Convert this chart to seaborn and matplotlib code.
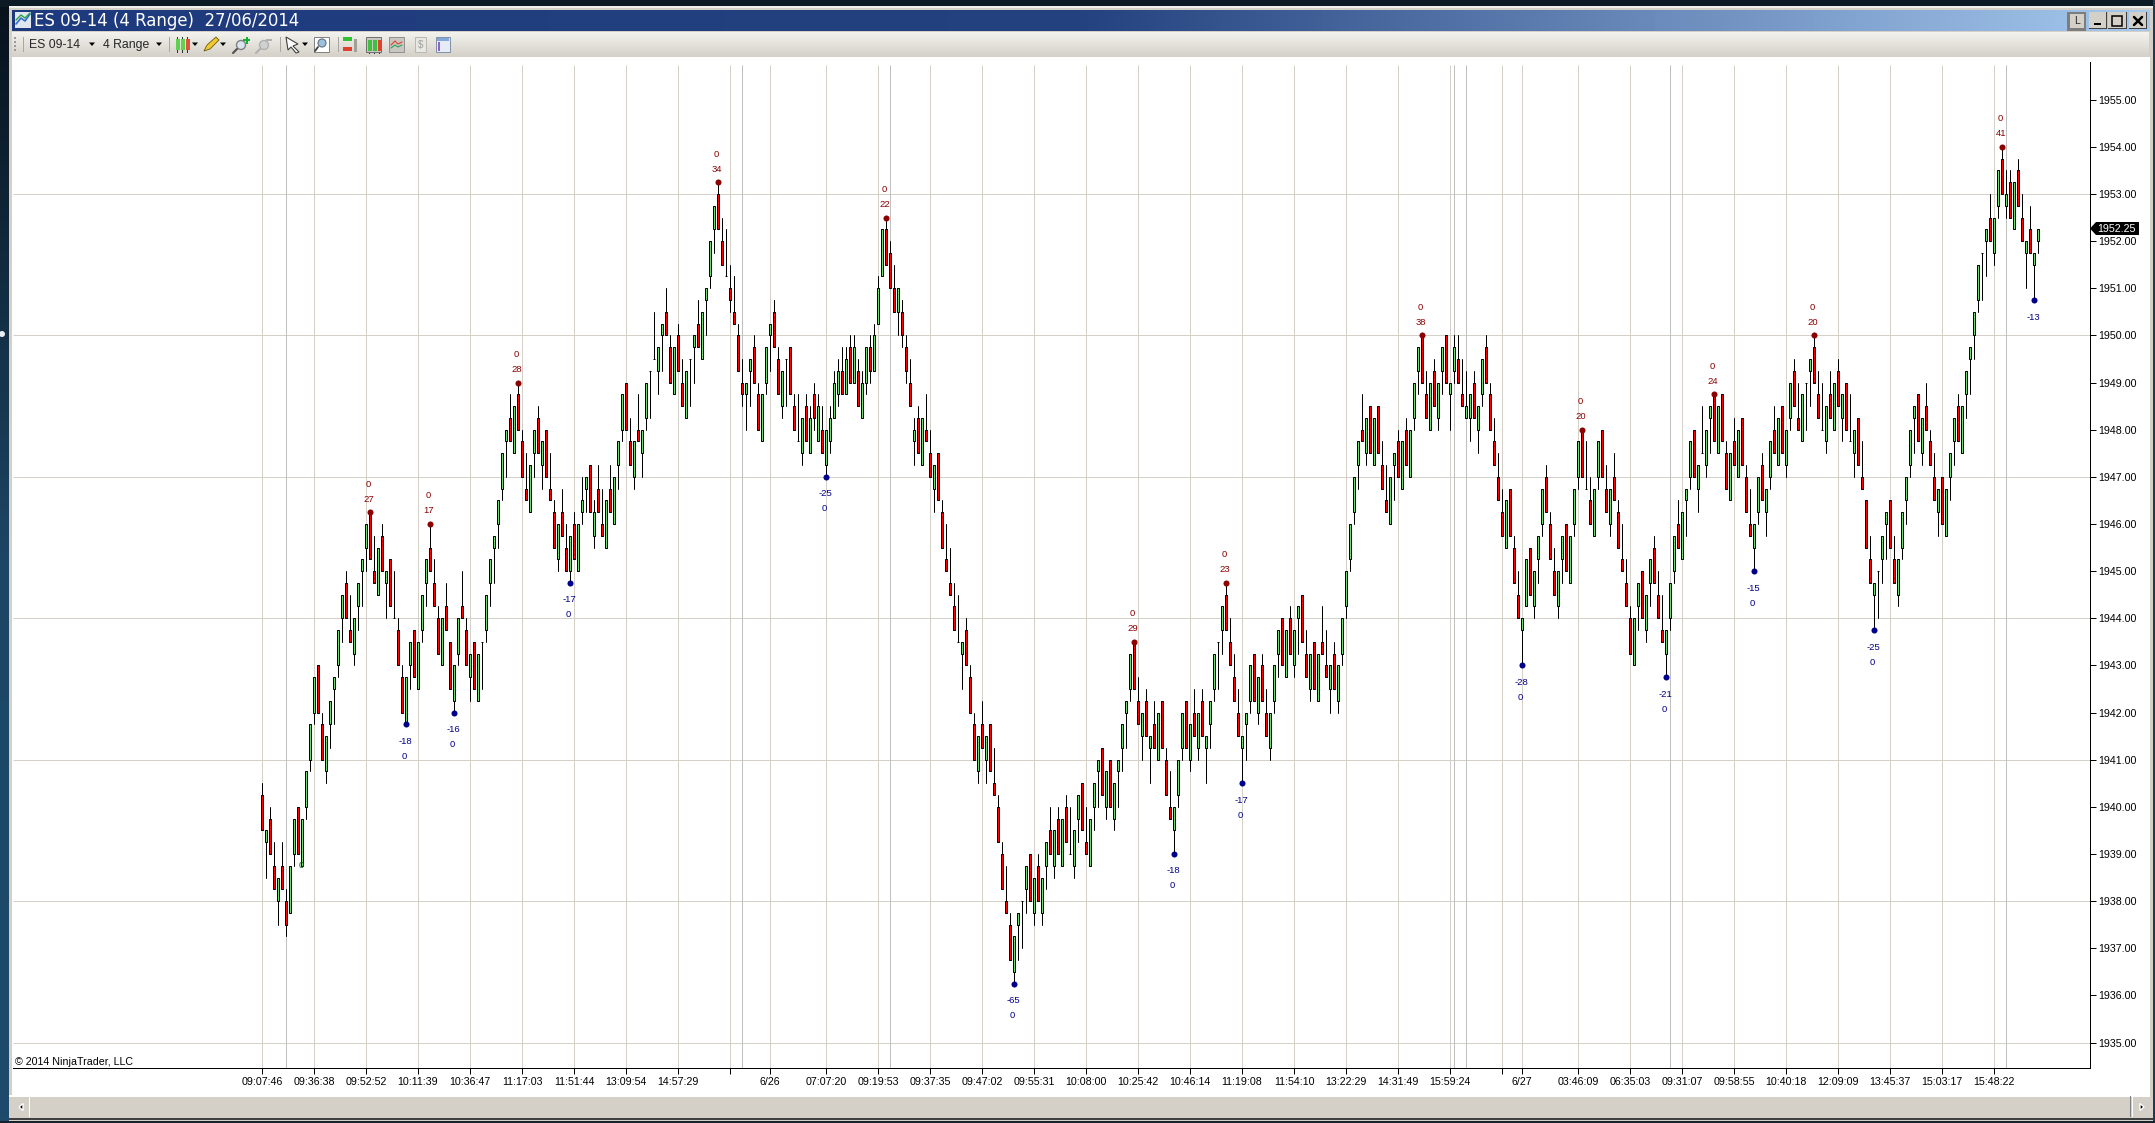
"""ES 09-14 4 Range Chart im NinjaTrader-Fenster."""

import matplotlib

matplotlib.use("Agg")

import matplotlib.pyplot as plt
import numpy as np
import pandas as pd
import seaborn as sns
from matplotlib.colors import LinearSegmentedColormap
from matplotlib.patches import Polygon, Rectangle

bar_open = [
    1940.25, 1939.25, 1939.75, 1938.75, 1938, 1938.75, 1938, 1937.75, 1939, 1940,
    1938.75, 1940, 1941, 1942, 1943, 1941.75, 1940.75, 1941.75, 1942.5, 1943,
    1944, 1944.75, 1943.75, 1943.25, 1944.25, 1945, 1945.5, 1946.25, 1945, 1944.5,
    1945.75, 1944.75, 1945.25, 1944, 1943.75, 1942.75, 1941.75, 1943, 1943.75, 1942.5,
    1943.75, 1944.75, 1945.5, 1944.75, 1944, 1943, 1944.25, 1943.5, 1942.25, 1943.25,
    1944.25, 1943.75, 1942.75, 1943.5, 1942.25, 1943.5, 1943.75, 1944.75, 1945.5, 1946,
    1946.75, 1947.75, 1948.25, 1947.5, 1948.75, 1947.75, 1946.75, 1946.25, 1947.5, 1948.25,
    1947.25, 1948, 1946.75, 1946.25, 1945.25, 1946.25, 1945.5, 1945, 1946, 1945,
    1946.25, 1946.75, 1947.25, 1945.75, 1946.75, 1946, 1945.5, 1946.75, 1946, 1947.25,
    1948, 1949, 1947.75, 1947, 1948, 1947.5, 1948.25, 1949.25, 1949.5, 1949.25,
    1950, 1950.5, 1949.75, 1948.75, 1950, 1949, 1948.25, 1949.5, 1949.75, 1950.25,
    1949.5, 1950.75, 1951.25, 1952.25, 1953, 1952, 1951.25, 1951, 1950.5, 1950,
    1949, 1948.75, 1949.25, 1949.75, 1948.75, 1947.75, 1949, 1950, 1950.5, 1949.5,
    1948.5, 1949.5, 1949.75, 1948.5, 1947.75, 1947.5, 1948.5, 1947.5, 1948.75, 1947.75,
    1948, 1947.25, 1947.75, 1948.25, 1948.75, 1949.25, 1948.75, 1949.75, 1949, 1949.25,
    1948.25, 1949, 1949.75, 1949.25, 1950.25, 1951.25, 1952.25, 1951.75, 1951, 1950.5,
    1950.5, 1949.75, 1949, 1947.75, 1948.25, 1947.25, 1948, 1947.5, 1946.75, 1947.5,
    1946.25, 1945.25, 1944.75, 1944.25, 1943.5, 1943.25, 1943.75, 1942.75, 1941.75, 1940.75,
    1941.75, 1941, 1941.75, 1940.5, 1940, 1939, 1938, 1937.5, 1936.5, 1937.5,
    1938, 1938.25, 1939, 1937.75, 1938.75, 1937.75, 1938.75, 1939.5, 1938.75, 1939.75,
    1938.75, 1940, 1939, 1938.75, 1939.75, 1940.5, 1939.25, 1938.75, 1940, 1940.75,
    1941.25, 1940, 1941, 1939.75, 1940.75, 1941.25, 1942, 1942.5, 1943.5, 1942.25,
    1941.5, 1942.25, 1941.25, 1941.75, 1941, 1942.25, 1941, 1940, 1939.5, 1940.25,
    1941.25, 1942.25, 1941, 1942, 1941.25, 1942.25, 1941.25, 1941.75, 1942.5, 1943.5,
    1943.75, 1944.5, 1943.5, 1942.75, 1942, 1941.25, 1941.75, 1942.25, 1943.25, 1942,
    1943, 1942, 1941.25, 1942.25, 1943.25, 1944, 1942.75, 1944, 1943, 1944,
    1944.5, 1943.25, 1942.5, 1943.5, 1942.25, 1943.5, 1943, 1942.5, 1943.25, 1942.25,
    1943.25, 1944.25, 1945.25, 1946.25, 1947.25, 1948, 1947.5, 1948.5, 1947.25, 1948.5,
    1947.25, 1946.5, 1946, 1947.25, 1947.75, 1946.75, 1948, 1947, 1948.25, 1949.25,
    1950, 1948.75, 1948, 1949.25, 1948.25, 1949.25, 1950, 1948.75, 1949.25, 1949.5,
    1948.75, 1948.25, 1948.25, 1949, 1948, 1948.75, 1949.75, 1948.75, 1947.75, 1947,
    1946.25, 1945.5, 1946.75, 1945.5, 1944.5, 1943.75, 1944.25, 1945.5, 1944.25, 1945.25,
    1946, 1947, 1946, 1945, 1944.25, 1945.25, 1946, 1944.75, 1946, 1947,
    1948, 1946.75, 1946.5, 1945.75, 1947, 1948, 1946.75, 1946, 1947, 1946.25,
    1945.25, 1944.75, 1944, 1943, 1944.25, 1945, 1943.75, 1944.75, 1945.5, 1944.5,
    1943.75, 1943.25, 1944, 1945, 1946, 1945.25, 1946.5, 1947, 1948, 1946.75,
    1947.5, 1947.25, 1948.25, 1948.75, 1947.5, 1948.75, 1947.5, 1946.5, 1947.75, 1947,
    1948.25, 1947, 1946, 1945.5, 1946.25, 1947.25, 1946.25, 1947, 1948, 1947.25,
    1948.5, 1947.25, 1948.25, 1949.25, 1948.25, 1947.75, 1949, 1949.25, 1949.75, 1948.75,
    1948, 1947.75, 1948.75, 1948, 1949.25, 1948.25, 1949, 1947.75, 1947.5, 1948.25,
    1947, 1946.5, 1945.25, 1944.5, 1945, 1945.25, 1946, 1946.5, 1945.25, 1944.5,
    1945.5, 1946.5, 1947.25, 1948.25, 1948.75, 1947.5, 1948.5, 1947.75, 1947, 1946.25,
    1947, 1945.75, 1947, 1947.75, 1948.5, 1947.5, 1948.75, 1949.5, 1950, 1950.75,
    1951.75, 1952, 1952.5, 1951.75, 1952.75, 1953.75, 1952.75, 1953.25, 1952.25, 1953.5,
    1952.5, 1951.75, 1952.25, 1951.5, 1952,
]
bar_high = [
    1940.5, 1939.5, 1940, 1939.25, 1938.5, 1939.25, 1938.25, 1938.75, 1939.75, 1940,
    1939.75, 1940.75, 1941.75, 1942.75, 1943, 1942, 1941.5, 1942.25, 1942.75, 1943.75,
    1944.5, 1945, 1944.5, 1944, 1944.75, 1945.25, 1946, 1946.25, 1945.75, 1945.5,
    1946, 1945, 1945.25, 1945, 1944, 1943, 1942.75, 1943.5, 1943.75, 1943.5,
    1944.5, 1945.25, 1946, 1945.25, 1944.25, 1944, 1944.75, 1943.5, 1943, 1944,
    1945, 1944, 1943.25, 1943.5, 1943.25, 1943.5, 1944.5, 1945.25, 1945.75, 1946.5,
    1947.5, 1948, 1948.75, 1948.5, 1949, 1948, 1947.5, 1947.25, 1948, 1948.5,
    1947.75, 1948, 1947.5, 1946.5, 1946, 1946.75, 1946, 1945.75, 1946.25, 1946,
    1947, 1947, 1947.25, 1946.5, 1947.25, 1946.75, 1946.5, 1947.25, 1947, 1947.75,
    1948.75, 1949, 1948.25, 1947.75, 1948.75, 1948, 1949, 1949.25, 1950.5, 1949.75,
    1950.25, 1951, 1950, 1949.75, 1950.25, 1949.5, 1949.25, 1949.5, 1950, 1950.75,
    1950.5, 1951, 1952, 1952.75, 1953.25, 1952.5, 1952.25, 1951.5, 1951.25, 1950.25,
    1949.5, 1949, 1949.5, 1950, 1949, 1948.75, 1949.75, 1950.25, 1950.75, 1949.75,
    1949.25, 1949.5, 1949.75, 1948.75, 1948.75, 1948.25, 1948.75, 1948.5, 1949, 1948.75,
    1948.5, 1948, 1948.5, 1949.25, 1949.5, 1949.75, 1949.75, 1950, 1950, 1949.5,
    1949.25, 1949.75, 1950, 1950.25, 1951.25, 1952.25, 1952.5, 1952, 1951.5, 1951,
    1950.75, 1950, 1949.5, 1948.25, 1948.5, 1948.25, 1948.75, 1948, 1947.25, 1947.5,
    1946.5, 1946, 1945.5, 1944.75, 1944.5, 1943.5, 1944, 1943, 1942, 1941.5,
    1942.25, 1941.5, 1941.75, 1941.25, 1940.25, 1939.25, 1938.75, 1937.75, 1937.25, 1937.75,
    1938, 1938.75, 1939, 1938.5, 1939, 1938.5, 1939.25, 1940, 1939.5, 1940,
    1939.75, 1940.25, 1940, 1939.5, 1940.25, 1940.5, 1940, 1939.75, 1940.5, 1941,
    1941.25, 1940.75, 1941, 1940.5, 1941, 1941.75, 1942.25, 1943.25, 1943.5, 1942.75,
    1942, 1942.5, 1941.5, 1942.25, 1942, 1942.25, 1941.25, 1940.75, 1940, 1941,
    1942, 1942.25, 1941.75, 1942.5, 1942, 1942.5, 1941.5, 1942.25, 1943.25, 1943.5,
    1944.25, 1944.75, 1944, 1943.25, 1942.5, 1941.5, 1942, 1943, 1943.25, 1942.75,
    1943.25, 1942.5, 1942, 1943, 1943.75, 1944, 1943.75, 1944.25, 1943.75, 1944.25,
    1944.5, 1943.75, 1943.25, 1943.5, 1943.25, 1944.25, 1943.75, 1943, 1943.5, 1943,
    1944, 1945, 1946, 1947, 1947.75, 1948.75, 1948.25, 1948.5, 1948.25, 1948.5,
    1947.75, 1947.25, 1947, 1947.5, 1948, 1947.75, 1948.25, 1948, 1949, 1949.75,
    1950, 1949.25, 1949, 1949.5, 1949, 1949.75, 1950, 1949, 1950, 1950,
    1949.5, 1949.25, 1948.75, 1949.25, 1948.5, 1949.5, 1950, 1949, 1948.25, 1947.5,
    1946.75, 1946.5, 1946.75, 1945.75, 1945, 1944, 1945.25, 1945.5, 1945, 1945.75,
    1946.75, 1947.25, 1946.25, 1945.5, 1945, 1945.75, 1946, 1945.75, 1946.75, 1947.75,
    1948, 1947.75, 1947, 1946.75, 1947.75, 1948, 1947.25, 1946.75, 1947.5, 1946.5,
    1946, 1945.25, 1944.25, 1944, 1944.75, 1945, 1944.5, 1945.25, 1945.75, 1945,
    1944.5, 1943.75, 1944.75, 1945.75, 1946.5, 1946.25, 1946.75, 1947.75, 1948, 1947.25,
    1948.5, 1948, 1948.5, 1948.75, 1948.5, 1948.75, 1947.75, 1947.5, 1948.25, 1948,
    1948.25, 1947.25, 1946.75, 1946, 1947, 1947.5, 1946.75, 1947.75, 1948.5, 1948.25,
    1948.5, 1948, 1949, 1949.5, 1949, 1948.75, 1949, 1949.5, 1950, 1949.25,
    1949, 1948.5, 1949.25, 1949, 1949.5, 1948.75, 1949, 1948.75, 1948, 1948.25,
    1947.75, 1946.5, 1945.75, 1944.75, 1945, 1945.75, 1946.25, 1946.5, 1945.75, 1945.25,
    1946.25, 1947, 1948, 1948.5, 1948.75, 1948.25, 1949, 1948, 1947.5, 1946.75,
    1947, 1946.75, 1947.5, 1948.25, 1948.75, 1948.5, 1949.25, 1949.75, 1950.5, 1951.5,
    1951.75, 1952.25, 1953, 1952.5, 1953.5, 1954, 1953.5, 1953.5, 1953.25, 1953.75,
    1953, 1952, 1952.75, 1951.75, 1952.25,
]
bar_low = [
    1939.5, 1938.5, 1939, 1938.25, 1937.5, 1938.25, 1937.25, 1937.75, 1938.75, 1939,
    1938.75, 1939.75, 1940.75, 1941.75, 1942, 1941, 1940.5, 1941.25, 1941.75, 1942.75,
    1943.5, 1944, 1943.5, 1943, 1943.75, 1944.25, 1945, 1945.25, 1944.75, 1944.5,
    1945, 1944, 1944.25, 1944, 1943, 1942, 1941.75, 1942.5, 1942.75, 1942.5,
    1943.5, 1944.25, 1945, 1944.25, 1943.25, 1943, 1943.75, 1942.5, 1942, 1943,
    1944, 1943, 1942.25, 1942.5, 1942.25, 1942.5, 1943.5, 1944.25, 1944.75, 1945.5,
    1946.5, 1947, 1947.75, 1947.5, 1948, 1947, 1946.5, 1946.25, 1947, 1947.5,
    1946.75, 1947, 1946.5, 1945.5, 1945, 1945.75, 1945, 1944.75, 1945.25, 1945,
    1946, 1946.25, 1946.25, 1945.5, 1946.25, 1945.75, 1945.5, 1946.25, 1946, 1946.75,
    1947.75, 1948, 1947.25, 1946.75, 1947.75, 1947, 1948, 1948.25, 1949.5, 1948.75,
    1949.25, 1950, 1949, 1948.75, 1949.25, 1948.5, 1948.25, 1948.5, 1949, 1949.75,
    1949.5, 1950, 1951, 1951.75, 1952.25, 1951.5, 1951.25, 1950.5, 1950.25, 1949.25,
    1948.5, 1948, 1948.5, 1949, 1948, 1947.75, 1948.75, 1949.25, 1949.75, 1948.75,
    1948.25, 1948.5, 1948.75, 1948, 1947.75, 1947.25, 1947.75, 1947.5, 1948, 1947.75,
    1947.5, 1947, 1947.5, 1948.25, 1948.5, 1948.75, 1948.75, 1949, 1949, 1948.5,
    1948.25, 1948.75, 1949, 1949.25, 1950.25, 1951.25, 1951.5, 1951, 1950.5, 1950,
    1949.75, 1949, 1948.5, 1947.25, 1947.5, 1947.25, 1947.75, 1947, 1946.25, 1946.5,
    1945.5, 1945, 1944.5, 1943.75, 1943.5, 1942.5, 1943, 1942, 1941, 1940.5,
    1941.25, 1940.5, 1940.75, 1940.25, 1939.25, 1938.25, 1937.75, 1936.75, 1936.25, 1936.75,
    1937, 1937.75, 1938, 1937.5, 1938, 1937.5, 1938.25, 1939, 1938.5, 1939,
    1938.75, 1939.25, 1939, 1938.5, 1939.25, 1939.5, 1939, 1938.75, 1939.5, 1940,
    1940.25, 1939.75, 1940, 1939.5, 1940, 1940.75, 1941.25, 1942.25, 1942.5, 1941.75,
    1941, 1941.5, 1940.5, 1941.25, 1941, 1941.25, 1940.25, 1939.75, 1939, 1940,
    1941, 1941.25, 1940.75, 1941.5, 1941, 1941.5, 1940.5, 1941.25, 1942.25, 1942.5,
    1943.25, 1943.75, 1943, 1942.25, 1941.5, 1940.5, 1941, 1942, 1942.25, 1941.75,
    1942.25, 1941.5, 1941, 1942, 1942.75, 1943, 1942.75, 1943.25, 1942.75, 1943.25,
    1943.5, 1942.75, 1942.25, 1942.5, 1942.25, 1943.25, 1942.75, 1942, 1942.5, 1942,
    1943, 1944, 1945, 1946, 1946.75, 1947.75, 1947.25, 1947.5, 1947.25, 1947.5,
    1946.75, 1946.25, 1946, 1946.5, 1947, 1946.75, 1947.25, 1947, 1948, 1948.75,
    1949, 1948.25, 1948, 1948.5, 1948, 1948.75, 1949, 1948, 1949, 1949,
    1948.5, 1948.25, 1947.75, 1948.25, 1947.5, 1948.5, 1949, 1948, 1947.25, 1946.5,
    1945.75, 1945.5, 1945.75, 1944.75, 1944, 1943, 1944.25, 1944.5, 1944, 1944.75,
    1945.75, 1946.25, 1945.25, 1944.5, 1944, 1944.75, 1945, 1944.75, 1945.75, 1946.75,
    1947, 1946.75, 1946, 1945.75, 1946.75, 1947, 1946.25, 1945.75, 1946.5, 1945.5,
    1945, 1944.25, 1943.25, 1943, 1943.75, 1944, 1943.5, 1944.25, 1944.75, 1944,
    1943.5, 1942.75, 1943.75, 1944.75, 1945.5, 1945.25, 1945.75, 1946.75, 1947, 1946.25,
    1947.5, 1947, 1947.5, 1947.75, 1947.5, 1947.75, 1946.75, 1946.5, 1947.25, 1947,
    1947.25, 1946.25, 1945.75, 1945, 1946, 1946.5, 1945.75, 1946.75, 1947.5, 1947.25,
    1947.5, 1947, 1948, 1948.5, 1948, 1947.75, 1948, 1948.5, 1949, 1948.25,
    1948, 1947.5, 1948.25, 1948, 1948.5, 1947.75, 1948, 1947.75, 1947, 1947.25,
    1946.75, 1945.5, 1944.75, 1943.75, 1944, 1944.75, 1945.25, 1945.5, 1944.75, 1944.25,
    1945.25, 1946, 1947, 1947.5, 1947.75, 1947.25, 1948, 1947.25, 1946.5, 1945.75,
    1946, 1945.75, 1946.5, 1947.25, 1947.75, 1947.5, 1948.25, 1948.75, 1949.5, 1950.5,
    1950.75, 1951.25, 1952, 1951.5, 1952.5, 1953, 1952.5, 1952.5, 1952.25, 1952.75,
    1952, 1951, 1951.75, 1950.75, 1951.75,
]
bar_close = [
    1939.5, 1939.5, 1939, 1938.25, 1938.5, 1938.25, 1937.5, 1938.75, 1939.75, 1939,
    1939.75, 1940.75, 1941.75, 1942.75, 1942, 1941, 1941.5, 1942.25, 1942.75, 1943.75,
    1944.5, 1944, 1943.5, 1944, 1944.75, 1945.25, 1946, 1945.25, 1944.75, 1945.5,
    1945, 1945, 1944.25, 1944, 1943, 1942, 1942.75, 1943.5, 1942.75, 1943.5,
    1944.5, 1945.25, 1945, 1944.25, 1943.25, 1944, 1943.75, 1942.5, 1943, 1944,
    1944, 1943, 1943.25, 1942.5, 1943.25, 1943.5, 1944.5, 1945.25, 1945.75, 1946.5,
    1947.5, 1948, 1947.75, 1948.5, 1948, 1947, 1946.5, 1947.25, 1948, 1947.5,
    1947.75, 1947, 1946.5, 1945.5, 1946, 1945.75, 1945, 1945.75, 1945.25, 1946,
    1946.5, 1947, 1946.25, 1946.25, 1946.25, 1945.75, 1946.5, 1946.25, 1947, 1947.75,
    1948.75, 1948, 1947.25, 1947.75, 1947.75, 1948, 1949, 1949.25, 1949.5, 1949.75,
    1950.25, 1950, 1949, 1949.75, 1949.25, 1948.5, 1949.25, 1949.5, 1950, 1949.75,
    1950.5, 1951, 1952, 1952.75, 1952.25, 1951.5, 1951.25, 1950.75, 1950.25, 1949.25,
    1948.75, 1949, 1949.5, 1949, 1948, 1948.75, 1949.75, 1950.25, 1949.75, 1948.75,
    1949.25, 1949.5, 1948.75, 1948, 1947.75, 1948.25, 1947.75, 1948.25, 1948.25, 1948.5,
    1947.5, 1948, 1948.25, 1949, 1949.25, 1948.75, 1949.5, 1949, 1949.75, 1948.5,
    1949, 1949.75, 1949.25, 1950, 1951, 1952.25, 1951.5, 1951, 1950.5, 1951,
    1950, 1949.25, 1948.5, 1948, 1947.5, 1948.25, 1947.75, 1947, 1947.25, 1946.5,
    1945.5, 1945, 1944.5, 1943.75, 1943.5, 1943.5, 1943, 1942, 1941, 1941.5,
    1941.25, 1941.5, 1940.75, 1940.25, 1939.25, 1938.25, 1937.75, 1936.75, 1937.25, 1937.75,
    1938, 1938.75, 1938, 1938.5, 1938, 1938.5, 1939.25, 1939, 1939.5, 1939,
    1939.75, 1939.25, 1939, 1939.5, 1940.25, 1939.5, 1939, 1939.75, 1940.5, 1941,
    1940.25, 1940.75, 1940, 1940.5, 1941, 1941.75, 1942.25, 1943.25, 1942.5, 1941.75,
    1942, 1941.5, 1941.5, 1941.25, 1942, 1941.25, 1940.25, 1939.75, 1940, 1941,
    1942, 1941.25, 1941.75, 1941.5, 1942, 1941.5, 1941.5, 1942.25, 1943.25, 1943.5,
    1944.25, 1943.75, 1943, 1942.25, 1941.5, 1941.5, 1942, 1943, 1942.25, 1942.75,
    1942.25, 1941.5, 1942, 1943, 1943.75, 1943, 1943.75, 1943.25, 1943.75, 1944.25,
    1943.5, 1942.75, 1943.25, 1942.5, 1943.25, 1943.25, 1942.75, 1943, 1942.5, 1943,
    1944, 1945, 1946, 1947, 1947.75, 1947.75, 1948.25, 1947.5, 1948.25, 1947.5,
    1946.75, 1946.25, 1947, 1947.5, 1947, 1947.75, 1947.25, 1948, 1949, 1949.75,
    1949, 1948.25, 1949, 1948.5, 1949, 1949.75, 1949, 1949, 1949.75, 1949,
    1948.5, 1948.5, 1948.75, 1948.25, 1948.5, 1949.5, 1949, 1948, 1947.25, 1946.5,
    1945.75, 1946.5, 1945.75, 1944.75, 1944, 1944, 1945.25, 1944.5, 1945, 1945.75,
    1946.75, 1946.25, 1945.25, 1944.5, 1945, 1945.75, 1945, 1945.75, 1946.75, 1947.75,
    1947, 1946.75, 1946, 1946.75, 1947.75, 1947, 1946.25, 1946.75, 1946.5, 1945.5,
    1945, 1944.25, 1943.25, 1944, 1944.75, 1944, 1944.5, 1945.25, 1944.75, 1944,
    1943.5, 1943.75, 1944.75, 1945.75, 1945.5, 1946.25, 1946.75, 1947.75, 1947, 1947.25,
    1947.5, 1948, 1948.5, 1947.75, 1948.5, 1947.75, 1946.75, 1947.5, 1947.25, 1948,
    1947.25, 1946.25, 1945.75, 1946, 1947, 1946.5, 1946.75, 1947.75, 1947.5, 1948.25,
    1947.5, 1948, 1949, 1948.5, 1948, 1948.75, 1949, 1949.5, 1949, 1948.25,
    1948, 1948.5, 1948.25, 1949, 1948.5, 1948.75, 1948, 1947.75, 1948, 1947.25,
    1946.75, 1945.5, 1944.75, 1944.75, 1945, 1945.75, 1946.25, 1945.5, 1944.75, 1945.25,
    1946.25, 1947, 1948, 1948.5, 1947.75, 1948.25, 1948, 1947.25, 1946.5, 1946.75,
    1946, 1946.75, 1947.5, 1948.25, 1947.75, 1948.5, 1949.25, 1949.75, 1950.5, 1951.5,
    1951.75, 1952.25, 1952, 1952.5, 1953.5, 1953, 1953, 1952.5, 1953.25, 1952.75,
    1952, 1952, 1951.75, 1951.75, 1952.25,
]

# Swing-Marken: Bar-Index, Preis, Wert
swing_high_bar = [27, 42, 64, 114, 156, 218, 241, 290, 330, 363, 388, 435]
swing_high_price = [1946.25, 1946, 1949, 1953.25, 1952.5, 1943.5, 1944.75, 1950, 1948, 1948.75, 1950, 1954]
swing_high_value = [27, 17, 28, 34, 22, 29, 23, 38, 20, 24, 20, 41]
swing_low_bar = [36, 48, 77, 141, 188, 228, 245, 315, 351, 373, 403, 443]
swing_low_price = [1941.75, 1942, 1944.75, 1947, 1936.25, 1939, 1940.5, 1943, 1942.75, 1945, 1943.75, 1950.75]
swing_low_value = [-18, -16, -17, -25, -65, -18, -17, -28, -21, -15, -25, -13]

# Zeitachse
tick_bars = [0, 13, 26, 39, 52, 65, 78, 91, 104, 117, 127, 141, 154, 167, 180, 193, 206, 219,
             232, 245, 258, 271, 284, 297, 310, 315, 329, 342, 355, 368, 381, 394, 407, 420, 433]
tick_labels = ["09:07:46", "09:36:38", "09:52:52", "10:11:39", "10:36:47", "11:17:03", "11:51:44",
               "13:09:54", "14:57:29", "", "6/26", "07:07:20", "09:19:53", "09:37:35", "09:47:02",
               "09:55:31", "10:08:00", "10:25:42", "10:46:14", "11:19:08", "11:54:10", "13:22:29",
               "14:31:49", "15:59:24", "", "6/27", "03:46:09", "06:35:03", "09:31:07", "09:58:55",
               "10:40:18", "12:09:09", "13:45:37", "15:03:17", "15:48:22"]
session_bars = [6, 120, 157, 298, 301, 352, 436]
price_ticks = [1935 + k for k in range(21)]
grid_prices = [1935, 1938, 1941, 1944, 1947, 1950, 1953]
last_price = 1952.25

WIDTH, HEIGHT = 2155, 1123
GREY = "#d4d0c8"
GRID = "#d4d0c8"
PX = 0.72  # 1 Pixel in Punkt bei dpi=100


def rect(ax, x0, y0, x1, y1, color, z=1):
    ax.add_patch(Rectangle((x0, y0), x1 - x0, y1 - y0, facecolor=color, edgecolor="none", zorder=z))


def arrow(ax, x, y, color="black", size=3):
    ax.add_patch(Polygon([(x - size, y - 1.5), (x + size, y - 1.5), (x, y + 2)], closed=True, facecolor=color,
                         edgecolor="none", zorder=5))


def gradient(ax, x0, y0, x1, y1, colors, z, vertical=False):
    cmap = LinearSegmentedColormap.from_list("verlauf", colors)
    ramp = np.linspace(0, 1, 256)
    ramp = ramp.reshape(-1, 1) if vertical else ramp.reshape(1, -1)
    ax.imshow(ramp, cmap=cmap, extent=(x0, x1, y1, y0), aspect="auto", zorder=z, interpolation="bilinear")


def candle_icon(ax, x, y, colors):
    for k, color in enumerate(colors):
        rect(ax, x + k * 5, y, x + k * 5 + 3.5, y + 11, color, z=5)
        rect(ax, x + k * 5 + 1.2, y - 2, x + k * 5 + 2.2, y + 14, "#303030", z=4)


def draw_window(ax):
    """Fensterrahmen, Titelleiste, Toolbar und Scrollbar in Pixelkoordinaten."""
    gradient(ax, 0, 0, 10, HEIGHT, ["#07121c", "#1d4664", "#1f4a6c"], 2, vertical=True)
    rect(ax, 0, 0, WIDTH, 7, "#0c1a26", z=3)
    rect(ax, 2153, 0, WIDTH, HEIGHT, "#1c3a50", z=3)
    ax.add_patch(plt.Circle((2, 334), 3, facecolor="#e8eef4", edgecolor="none", zorder=3))
    rect(ax, 9, 6, 2153, 1121, GREY, z=3)
    rect(ax, 9, 6, 2153, 8, "#f0efe9", z=3)
    rect(ax, 12, 57, 2150, 1097, "white", z=3)
    rect(ax, 9, 1118, 2153, 1120, "#404040", z=4)
    rect(ax, 0, 1121, WIDTH, HEIGHT, "#16222c", z=4)

    gradient(ax, 12, 10, 2150, 31, ["#1e3a7e", "#24427f", "#a5c8ee"], 4)
    gradient(ax, 12, 32, 2149, 57, ["#f4f3ee", "#d4d0c8"], 4, vertical=True)
    ax.set_xlim(0, WIDTH)
    ax.set_ylim(HEIGHT, 0)
    ax.axis("off")

    # Titel
    rect(ax, 15, 12, 31, 28, "#dfe8f0", z=5)
    ax.plot([16, 21, 25, 30], [24, 18, 21, 14], color="#3070d0", lw=1.2, zorder=6)
    ax.plot([16, 21, 25, 30], [20, 15, 18, 13], color="#30a040", lw=1.0, zorder=6)
    ax.text(34, 21, "ES 09-14 (4 Range)  27/06/2014", color="white", fontsize=11.9, va="center", ha="left",
            family="DejaVu Sans", zorder=6)

    # Fensterknoepfe
    rect(ax, 2067, 12, 2086, 31, "#7d7d7d", z=5)
    rect(ax, 2070, 14, 2084, 28, GREY, z=6)
    ax.text(2077, 21.5, "L", fontsize=7.5, ha="center", va="center", zorder=7)
    for x0, x1 in [(2089, 2107), (2108, 2127), (2129, 2147)]:
        rect(ax, x0, 12, x1, 29, "#404040", z=5)
        rect(ax, x0, 12, x1 - 1, 28, GREY, z=6)
    rect(ax, 2094, 23, 2101, 25, "black", z=7)
    ax.add_patch(Rectangle((2112, 16), 10, 10, facecolor="none", edgecolor="black", lw=1.1, zorder=7))
    ax.plot([2134, 2142], [17, 25], color="black", lw=1.8, zorder=7)
    ax.plot([2134, 2142], [25, 17], color="black", lw=1.8, zorder=7)

    # Toolbar
    for y in (37, 41, 45, 49):
        rect(ax, 14, y, 16, y + 2, "#9a9a9a", z=5)
    for x in (23, 169, 280, 338):
        rect(ax, x, 37, x + 1, 52, "#a8a8a0", z=5)
    ax.text(29, 45, "ES 09-14", fontsize=8.8, va="center", zorder=6)
    arrow(ax, 92, 44)
    ax.text(103, 45, "4 Range", fontsize=8.8, va="center", zorder=6)
    arrow(ax, 159, 44)
    candle_icon(ax, 176, 39, ["#5fd04f", "#5fd04f", "#e05040"])
    arrow(ax, 195, 44)
    ax.add_patch(Polygon([(204, 51), (207, 45), (216, 37), (219, 40), (210, 49)], closed=True, facecolor="#f2c830",
                         edgecolor="#6a5a10", lw=0.6, zorder=5))
    arrow(ax, 223, 44)
    ax.add_patch(plt.Circle((241, 45), 4.5, facecolor="#d8e4f0", edgecolor="#808080", lw=1, zorder=5))
    ax.plot([237, 233], [49, 53], color="#505050", lw=1.5, zorder=5)
    rect(ax, 243, 39, 250, 41, "#10b030", z=6)
    rect(ax, 245.5, 36.5, 247.5, 43.5, "#10b030", z=6)
    ax.add_patch(plt.Circle((264, 45), 4.5, facecolor="#d0d0d0", edgecolor="#b0b0b0", lw=1, zorder=5))
    ax.plot([260, 256], [49, 53], color="#b0b0b0", lw=1.5, zorder=5)
    rect(ax, 266, 39, 272, 41, "#b0b0b0", z=6)
    ax.add_patch(Polygon([(286, 37), (298, 44), (293, 46), (299, 52), (296, 53), (291, 47), (288, 50)], closed=True,
                         facecolor="white", edgecolor="#404040", lw=0.8, zorder=5))
    arrow(ax, 305, 44)
    ax.add_patch(Rectangle((314, 37), 15, 15, facecolor="white", edgecolor="#808080", lw=0.7, zorder=5))
    ax.add_patch(plt.Circle((322, 43), 4, facecolor="#9cc0e0", edgecolor="#607080", lw=0.8, zorder=6))
    ax.plot([318, 315], [47, 51], color="#404040", lw=1.3, zorder=6)
    rect(ax, 343, 37, 352, 41, "#30c030", z=5)
    rect(ax, 343, 47, 352, 51, "#e04030", z=5)
    rect(ax, 354, 39, 357, 52, "#a0a098", z=5)
    ax.add_patch(Rectangle((366, 37), 15, 15, facecolor="#c8c8c0", edgecolor="#707070", lw=0.7, zorder=5))
    candle_icon(ax, 368, 40, ["#40c040", "#40c040", "#e04030"])
    ax.add_patch(Rectangle((389, 37), 15, 15, facecolor="#c8c8c0", edgecolor="#909090", lw=0.7, zorder=5))
    ax.plot([391, 395, 398, 402], [45, 41, 44, 42], color="#e04030", lw=0.8, zorder=6)
    ax.plot([391, 395, 398, 402], [48, 45, 47, 45], color="#30a060", lw=0.8, zorder=6)
    ax.add_patch(Rectangle((415, 37), 11, 15, facecolor="#e8e8e2", edgecolor="#b8b8b0", lw=0.7, zorder=5))
    ax.text(420.5, 45, "$", fontsize=7, color="#a0a0a0", ha="center", va="center", zorder=6)
    ax.add_patch(Rectangle((436, 37), 14, 15, facecolor="#e6ecf6", edgecolor="#8090a8", lw=0.7, zorder=5))
    rect(ax, 437, 38, 449, 41, "#80a8d8", z=6)
    rect(ax, 438, 42, 440, 51, "#9060d0", z=6)

    # Scrollbar
    rect(ax, 9, 1095, 2150, 1097, "white", z=4)
    rect(ax, 12, 1097, 2150, 1117, GREY, z=4)
    rect(ax, 29, 1096, 30, 1117, "white", z=5)
    rect(ax, 2130, 1096, 2131, 1117, "#808080", z=5)
    rect(ax, 2132, 1096, 2133, 1117, "white", z=5)
    ax.add_patch(Polygon([(19, 1107), (23, 1103.5), (23, 1110.5)], closed=True, facecolor="black", zorder=6))
    ax.add_patch(Polygon([(2144, 1107), (2140, 1103.5), (2140, 1110.5)], closed=True, facecolor="black", zorder=6))

    # Kurs-Marke rechts
    ax.add_patch(Polygon([(2090, 228.5), (2096, 222), (2139, 222), (2139, 235), (2096, 235)], closed=True,
                         facecolor="black", edgecolor="none", zorder=8))
    ax.text(2097, 228.7, f"{last_price:.2f}", color="white", fontsize=7.7, va="center", ha="left", zorder=9)


sns.set_theme(style="white")
plt.rcParams["font.family"] = ["Liberation Sans", "DejaVu Sans"]

fig = plt.figure(figsize=(WIDTH / 100, HEIGHT / 100), dpi=100, facecolor="white")
ax_window = fig.add_axes((0, 0, 1, 1), zorder=0)
draw_window(ax_window)

left, right, top, bottom = 13, 2089.5, 62, 1068
ax = fig.add_axes((left / WIDTH, 1 - bottom / HEIGHT, (right - left) / WIDTH, (bottom - top) / HEIGHT), zorder=1)
ax.patch.set_alpha(0)

bars = pd.DataFrame({"bar": np.arange(len(bar_open)), "open": bar_open, "high": bar_high, "low": bar_low,
                     "close": bar_close})
wicks = bars.melt(id_vars="bar", value_vars=["high", "low"], value_name="price")

# Raster
ax.hlines(grid_prices, -62.25, 456.875, color=GRID, lw=PX, zorder=1)
ax.vlines(tick_bars, 1934.46, 1955.74, color=GRID, lw=PX, zorder=1)
ax.vlines(session_bars, 1934.46, 1955.74, color="#c0c0c0", lw=PX, zorder=1)

# Kerzen
sns.lineplot(data=wicks, x="bar", y="price", units="bar", estimator=None, color="black", lw=PX, sort=True,
             legend=False, ax=ax, zorder=3)
body_low = bars[["open", "close"]].min(axis=1)
body_height = (bars["open"] - bars["close"]).abs()
body_color = np.where(bars["close"] >= bars["open"], "#6ee06e", "#ff0000")
ax.bar(bars["bar"], body_height, bottom=body_low, width=0.5, color=body_color, edgecolor="black", linewidth=PX,
       zorder=4)

# Swing-Marken
highs = pd.DataFrame({"bar": swing_high_bar, "price": swing_high_price})
lows = pd.DataFrame({"bar": swing_low_bar, "price": swing_low_price})
sns.scatterplot(data=highs, x="bar", y="price", color="#8b0000", s=19, linewidth=0, legend=False, ax=ax, zorder=5)
sns.scatterplot(data=lows, x="bar", y="price", color="#00008b", s=19, linewidth=0, legend=False, ax=ax, zorder=5)
for b, p, v in zip(swing_high_bar, swing_high_price, swing_high_value):
    ax.annotate(str(v), (b, p), xytext=(-1, 13), textcoords="offset pixels", ha="center", va="center",
                fontsize=6.8, color="#8b0000", zorder=6)
    ax.annotate("0", (b, p), xytext=(-2, 28), textcoords="offset pixels", ha="center", va="center",
                fontsize=6.8, color="#8b0000", zorder=6)
for b, p, v in zip(swing_low_bar, swing_low_price, swing_low_value):
    ax.annotate(str(v), (b, p), xytext=(-1, -17), textcoords="offset pixels", ha="center", va="center",
                fontsize=6.8, color="#00008b", zorder=6)
    if b != swing_low_bar[-1]:
        ax.annotate("0", (b, p), xytext=(-2, -32), textcoords="offset pixels", ha="center", va="center",
                    fontsize=6.8, color="#00008b", zorder=6)
ax.annotate("0", (10, 1938.75), xytext=(-1, 0), textcoords="offset pixels", ha="center", va="center", fontsize=6.8,
            color="#006400", zorder=6)

ax.set_xlim(-62.25, 456.875)
ax.set_ylim(1934.46, 1955.8)
ax.set_xlabel("")
ax.set_ylabel("")
ax.set_xticks(tick_bars, labels=tick_labels)
ax.yaxis.tick_right()
ax.set_yticks(price_ticks, labels=[f"{p:.2f}" for p in price_ticks])
ax.tick_params(axis="x", length=4.6, width=PX, pad=2, labelsize=7.7, colors="black", bottom=True)
ax.tick_params(axis="y", length=4, width=PX, pad=2, labelsize=7.7, colors="black", right=True)
for name in ("left", "top"):
    ax.spines[name].set_visible(False)
for name in ("right", "bottom"):
    ax.spines[name].set_visible(True)
    ax.spines[name].set_color("black")
    ax.spines[name].set_linewidth(PX)

ax.text(15, 1062, "© 2014 NinjaTrader, LLC", fontsize=7.7, ha="left", va="center", color="black", zorder=6,
        transform=ax_window.transData)

fig.savefig("out.png", dpi=100, facecolor=fig.get_facecolor())
